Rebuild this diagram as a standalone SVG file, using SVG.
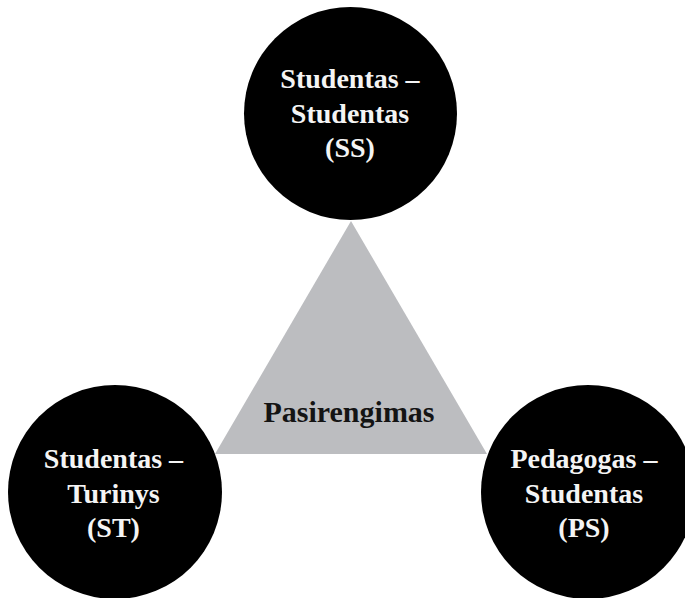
<svg xmlns="http://www.w3.org/2000/svg" width="685" height="598" viewBox="0 0 685 598">
  <style>
    .node { fill: #000000; }
    .label { font-family: "Liberation Serif", "Times New Roman", serif; font-weight: bold; font-size: 28px; fill: #f4f4f4; text-anchor: middle; }
    .core { fill: #bcbdc0; }
    .core-label { font-family: "Liberation Serif", "Times New Roman", serif; font-weight: bold; font-size: 30px; fill: #141414; text-anchor: middle; }
  </style>
  <rect width="685" height="598" fill="#ffffff"/>

  <!-- central triangle -->
  <g id="pasirengimas">
    <polygon class="core" points="351,221 215,454 487,454"/>
    <text class="core-label" x="349" y="422">Pasirengimas</text>
  </g>

  <g id="connectors"></g>

  <!-- top node -->
  <g id="ss">
    <circle class="node" cx="350.5" cy="113.5" r="106.5"/>
    <text class="label" x="350" y="88">Studentas –</text>
    <text class="label" x="350" y="123">Studentas</text>
    <text class="label" x="350" y="157">(SS)</text>
  </g>

  <!-- bottom-left node -->
  <g id="st">
    <circle class="node" cx="115" cy="492" r="107"/>
    <text class="label" x="113.5" y="468">Studentas –</text>
    <text class="label" x="113.5" y="503">Turinys</text>
    <text class="label" x="113.5" y="537">(ST)</text>
  </g>

  <!-- bottom-right node -->
  <g id="ps">
    <circle class="node" cx="588" cy="492" r="107"/>
    <text class="label" x="584" y="468">Pedagogas –</text>
    <text class="label" x="584" y="503">Studentas</text>
    <text class="label" x="584" y="537">(PS)</text>
  </g>
</svg>
